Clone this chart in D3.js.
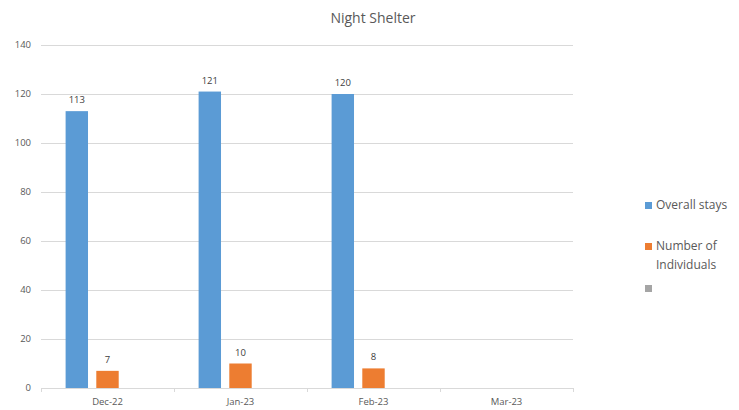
<!DOCTYPE html>
<html>
<head>
<meta charset="utf-8">
<script src="https://cdn.jsdelivr.net/npm/d3@7"></script>
<style>
  body { margin: 0; background: #fff; }
  svg { font-family: "Open Sans", "Noto Sans", sans-serif; }
</style>
</head>
<body>
<svg id="chart" width="739" height="410"></svg>
<script>
const months = ["Dec-22", "Jan-23", "Feb-23", "Mar-23"];
const seriesNames = ["Overall stays", "Number of Individuals", ""];
const overallStays = [113, 121, 120, null];
const individuals = [7, 10, 8, null];
const thirdSeries = [null, null, null, null];
const yTicks = [0, 20, 40, 60, 80, 100, 120, 140];
const colors = ["#5b9bd5", "#ed7d31", "#a5a5a5"];

const svg = d3.select("#chart");
const margin = { left: 41, right: 166, top: 45, bottom: 22 };
const plotRight = 573, plotBottom = 388;

const seriesValues = [overallStays, individuals, thirdSeries];

const x0 = d3.scaleBand()
    .domain(months)
    .range([margin.left, plotRight])
    .paddingInner(0.37)
    .paddingOuter(0.185);

const x1 = d3.scaleBand()
    .domain(d3.range(seriesNames.length))
    .range([0, x0.bandwidth()])
    .paddingInner(0.27);

const y = d3.scaleLinear()
    .domain([0, 140])
    .range([plotBottom, margin.top]);

// title
svg.append("text")
    .attr("x", 373)
    .attr("y", 23)
    .attr("text-anchor", "middle")
    .attr("font-size", 14)
    .attr("fill", "#595959")
    .text("Night Shelter");

// gridlines
svg.append("g")
    .selectAll("line")
    .data(yTicks)
    .enter()
    .append("line")
    .attr("x1", margin.left)
    .attr("x2", plotRight)
    .attr("y1", d => Math.round(y(d)) + 0.5)
    .attr("y2", d => Math.round(y(d)) + 0.5)
    .attr("stroke", "#d9d9d9")
    .attr("stroke-width", 1);

// y labels
svg.append("g")
    .selectAll("text")
    .data(yTicks)
    .enter()
    .append("text")
    .attr("x", 31)
    .attr("y", d => y(d))
    .attr("dy", "0.35em")
    .attr("text-anchor", "end")
    .attr("font-size", 9.5)
    .attr("fill", "#595959")
    .text(d => d);

// category tick marks at band boundaries
const step = x0.step();
const boundaries = d3.range(months.length + 1).map(i => margin.left + i * step);
svg.append("g")
    .selectAll("line")
    .data(boundaries)
    .enter()
    .append("line")
    .attr("x1", d => Math.round(d) + 0.5)
    .attr("x2", d => Math.round(d) + 0.5)
    .attr("y1", plotBottom)
    .attr("y2", plotBottom + 4)
    .attr("stroke", "#d9d9d9");

// x labels
svg.append("g")
    .selectAll("text")
    .data(months)
    .enter()
    .append("text")
    .attr("x", d => x0(d) + x0.bandwidth() / 2)
    .attr("y", 405)
    .attr("text-anchor", "middle")
    .attr("font-size", 9.5)
    .attr("fill", "#595959")
    .text(d => d);

// bars
const barData = [];
months.forEach((m, i) => {
    seriesValues.forEach((vals, s) => {
        if (vals[i] != null) barData.push({ month: m, s: s, v: vals[i] });
    });
});

svg.append("g")
    .selectAll("rect")
    .data(barData)
    .enter()
    .append("rect")
    .attr("x", d => x0(d.month) + x1(d.s))
    .attr("y", d => y(d.v))
    .attr("width", x1.bandwidth())
    .attr("height", d => plotBottom - y(d.v))
    .attr("fill", d => colors[d.s]);

// data labels
svg.append("g")
    .selectAll("text")
    .data(barData)
    .enter()
    .append("text")
    .attr("x", d => x0(d.month) + x1(d.s) + x1.bandwidth() / 2)
    .attr("y", d => y(d.v) - 8)
    .attr("text-anchor", "middle")
    .attr("font-size", 9.5)
    .attr("fill", "#404040")
    .text(d => d.v);

// legend
const legendItems = [
    { label: ["Overall stays"], y: 205 },
    { label: ["Number of", "Individuals"], y: 246 },
    { label: [""], y: 288 }
];
const legend = svg.append("g");
legendItems.forEach((item, i) => {
    legend.append("rect")
        .attr("x", 645)
        .attr("y", item.y - 3)
        .attr("width", 7)
        .attr("height", 7)
        .attr("fill", colors[i]);
    item.label.forEach((line, j) => {
        legend.append("text")
            .attr("x", 656)
            .attr("y", item.y + j * 19)
            .attr("dy", "0.35em")
            .attr("font-size", 12)
            .attr("fill", "#595959")
            .text(line);
    });
});
</script>
</body>
</html>
